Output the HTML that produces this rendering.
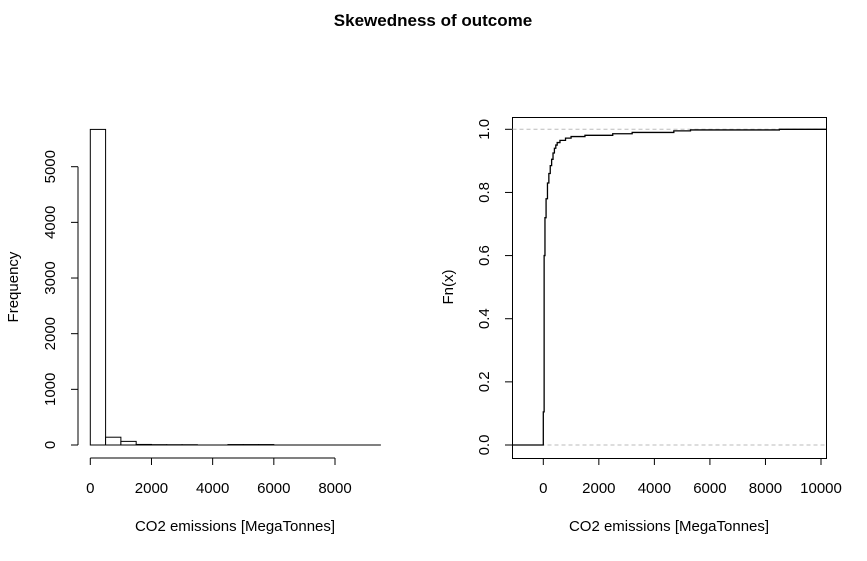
<!DOCTYPE html>
<html><head><meta charset="utf-8"><style>
body{margin:0;background:#fff;}
svg text{font-family:"Liberation Sans",Arial,sans-serif;fill:#000;}
</style></head><body>
<svg id="c" width="867" height="556" viewBox="0 0 867 556">
<text x="433" y="26" text-anchor="middle" font-size="17" font-weight="bold">Skewedness of outcome</text>
<g id="hist"></g>
<g id="ecdf"></g>
</svg>
<script>
const histBinStarts=[0,500,1000,1500,2000,2500,3000,3500,4000,4500,5000,5500,6000,6500,7000,7500,8000,8500,9000];
const histCounts=[5670,140,65,10,6,5,5,0,0,8,8,8,0,0,0,0,0,0,0];
const histBinWidth=500;
const histXTicks=[0,2000,4000,6000,8000];
const histYTicks=[0,1000,2000,3000,4000,5000];
const ecdfX=[-1200,0,30,60,100,150,200,250,300,350,400,450,500,600,800,1000,1500,2500,3200,4700,5300,8500,10300];
const ecdfY=[0,0.105,0.6,0.72,0.78,0.83,0.86,0.885,0.905,0.925,0.94,0.95,0.958,0.965,0.972,0.977,0.981,0.986,0.99,0.995,0.998,1.0,1.0];
const ecdfXTicks=[0,2000,4000,6000,8000,10000];
const ecdfYTicks=[0,0.2,0.4,0.6,0.8,1.0];
const NS='http://www.w3.org/2000/svg';
const FS=15;
function mk(p,t,a,txt){const e=document.createElementNS(NS,t);for(const k in a)e.setAttribute(k,a[k]);if(txt!==undefined)e.textContent=txt;p.appendChild(e);return e;}
// histogram
const H=document.getElementById('hist');
const hx=v=>90.3+v*(335-90.3)/8000, hy=v=>445-v*(445-166.7)/5000;
histCounts.forEach((c,i)=>{
 const x0=hx(histBinStarts[i]),x1=hx(histBinStarts[i]+histBinWidth),y=hy(c);
 const r=mk(H,'rect',{x:x0,y:y,width:x1-x0,height:445-y,fill:'#fff',stroke:'#000','stroke-width':1});
 
 
});
const lastEdge=histBinStarts[histBinStarts.length-1]+histBinWidth;
mk(H,'line',{x1:hx(0),x2:hx(lastEdge),y1:445,y2:445,stroke:'#000'});
mk(H,'line',{x1:hx(0),x2:hx(8000),y1:458,y2:458,stroke:'#000'});
histXTicks.forEach(t=>{mk(H,'line',{x1:hx(t),x2:hx(t),y1:458,y2:465,stroke:'#000'});
 const l=mk(H,'text',{x:hx(t),y:493,'text-anchor':'middle','font-size':FS},t);
 
 });
mk(H,'line',{x1:78,x2:78,y1:hy(0),y2:hy(5000),stroke:'#000'});
histYTicks.forEach(t=>{mk(H,'line',{x1:71,x2:78,y1:hy(t),y2:hy(t),stroke:'#000'});
 const l=mk(H,'text',{x:0,y:0,'text-anchor':'middle','font-size':FS,transform:`translate(55,${hy(t)}) rotate(-90)`},t);
 
 });
let t1=mk(H,'text',{x:235,y:531,'text-anchor':'middle','font-size':FS},'CO2 emissions [MegaTonnes]');


let t2=mk(H,'text',{x:0,y:0,'text-anchor':'middle','font-size':FS,transform:'translate(18,287) rotate(-90)'},'Frequency');


// ecdf
const E=document.getElementById('ecdf');
const ex=v=>543.3+v*(821-543.3)/10000, ey=v=>445-v*(445-129.3);
mk(E,'rect',{x:512.5,y:117.5,width:314,height:341,fill:'none',stroke:'#000'});
[0,1].forEach(v=>mk(E,'line',{x1:512.5,x2:826.5,y1:ey(v),y2:ey(v),stroke:'#bbb','stroke-dasharray':'4,3'}));
let d='';
for(let i=0;i<ecdfX.length;i++){const x=Math.max(512.5,Math.min(826.5,ex(ecdfX[i])));
 if(i===0)d+=`M${x},${ey(ecdfY[0])}`;else d+=`H${x}V${ey(ecdfY[i])}`;}
const p=mk(E,'path',{d:d,fill:'none',stroke:'#000','stroke-width':1.3});


ecdfXTicks.forEach(t=>{mk(E,'line',{x1:ex(t),x2:ex(t),y1:458,y2:465,stroke:'#000'});
 const l=mk(E,'text',{x:ex(t),y:493,'text-anchor':'middle','font-size':FS},t);
 
 });
ecdfYTicks.forEach(t=>{mk(E,'line',{x1:505,x2:512.5,y1:ey(t),y2:ey(t),stroke:'#000'});
 const l=mk(E,'text',{x:0,y:0,'text-anchor':'middle','font-size':FS,transform:`translate(489,${ey(t)}) rotate(-90)`},t.toFixed(1));
 
 });
let t3=mk(E,'text',{x:669,y:531,'text-anchor':'middle','font-size':FS},'CO2 emissions [MegaTonnes]');


let t4=mk(E,'text',{x:0,y:0,'text-anchor':'middle','font-size':FS,transform:'translate(453,287) rotate(-90)'},'Fn(x)');


</script>
</body></html>
